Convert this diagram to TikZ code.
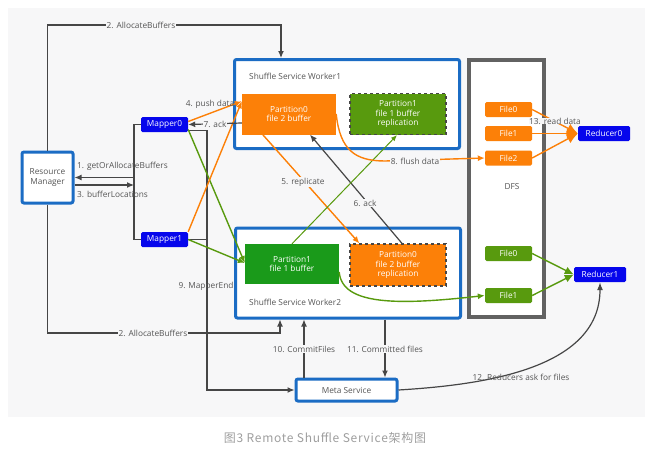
\documentclass[tikz,border=0pt]{standalone}
\usepackage{fontspec}
\setmainfont{Open Sans}
\newfontfamily\cjkfont[LetterSpace=6]{Noto Sans CJK SC}
\usetikzlibrary{arrows.meta,calc}
\definecolor{rssblue}{RGB}{27,108,196}
\definecolor{rssnavy}{RGB}{6,6,236}
\definecolor{rssorange}{RGB}{252,128,8}
\definecolor{rssolive}{RGB}{88,154,14}
\definecolor{rssgreen}{RGB}{26,154,26}
\definecolor{rssline}{RGB}{70,70,70}
\definecolor{rsstext}{RGB}{85,85,85}
\definecolor{rssbg}{RGB}{247,247,248}
\newcommand\lblfont{\fontsize{8.3}{9.8}\selectfont}
\tikzset{
    svcbox/.style={draw=rssblue, line width=3pt, fill=white, rounded corners=2pt, inner sep=0pt},
    taskbox/.style={fill=rssnavy, text=white, rounded corners=1.5pt, minimum width=47pt, minimum height=15pt, inner sep=0pt, font=\lblfont},
    partbox/.style={text=white, align=center, minimum height=41pt, inner sep=0pt, font=\lblfont},
    replbox/.style={partbox, draw=rssline, dashed, line width=1.2pt},
    filebox/.style={text=white, rounded corners=1.5pt, minimum width=47pt, minimum height=15pt, inner sep=0pt, font=\lblfont},
    msg/.style={text=rsstext, font=\lblfont, inner sep=1pt},
    msgbg/.style={msg, fill=rssbg},
    flow/.style={draw=rssline, line width=1.2pt, -{Latex[length=7pt,width=6pt]}},
    plain/.style={draw=rssline, line width=1.2pt},
    oflow/.style={draw=rssorange, line width=1.4pt, -{Latex[length=7pt,width=6pt]}},
    gflow/.style={draw=rssolive, line width=1.4pt, -{Latex[length=7pt,width=6pt]}}
}
\begin{document}
\begin{tikzpicture}[x=1pt,y=-1pt]
    \useasboundingbox (0,0) rectangle (650,450);
    \fill[rssbg] (8,8) rectangle (645,417);

    \node[svcbox, minimum width=51pt, minimum height=51pt, text=rsstext, align=center, font=\lblfont] (rm) at (47.5,177.5) {Resource\\Manager};
    \node[taskbox] (mapper0) at (164.5,124.5) {Mapper0};
    \node[taskbox] (mapper1) at (164.5,239.5) {Mapper1};

    \node[svcbox, minimum width=225pt, minimum height=89pt] (w1) at (347,104) {};
    \node[msg, anchor=west] (w1label) at (248,76) {Shuffle Service Worker1};
    \node[partbox, fill=rssorange, minimum width=94pt] (p0) at (289,114) {Partition0\\file 2 buffer};
    \node[replbox, fill=rssolive, minimum width=96pt] (p1r) at (398,114) {Partition1\\file 1 buffer\\replication};

    \node[svcbox, minimum width=225pt, minimum height=90pt] (w2) at (348,273) {};
    \node[msg, anchor=west] (w2label) at (248,302) {Shuffle Service Worker2};
    \node[partbox, fill=rssgreen, minimum width=94pt, minimum height=40pt] (p1) at (292,264) {Partition1\\file 1 buffer};
    \node[replbox, fill=rssorange, minimum width=96pt, minimum height=42pt] (p0r) at (398,265) {Partition0\\file 2 buffer\\replication};

    \node[draw=rssline!85, line width=4pt, fill=white, minimum width=75pt, minimum height=257pt, inner sep=0pt] (dfs) at (506.5,188.5) {};
    \node[msg] (dfslabel) at (512,187) {DFS};
    \node[filebox, fill=rssorange] (f0o) at (508.5,109.5) {File0};
    \node[filebox, fill=rssorange] (f1o) at (508.5,133.5) {File1};
    \node[filebox, fill=rssorange] (f2o) at (508.5,158) {File2};
    \node[filebox, fill=rssolive] (f0g) at (508.5,253.5) {File0};
    \node[filebox, fill=rssolive] (f1g) at (508.5,295.5) {File1};
    \node[taskbox, minimum width=52pt] (red0) at (604,133.5) {Reducer0};
    \node[taskbox, minimum width=52pt] (red1) at (600,274.5) {Reducer1};

    \node[svcbox, minimum width=101pt, minimum height=22pt, text=rsstext, font=\lblfont] (meta) at (346.5,390) {Meta Service};

    \coordinate (topbus) at (0,25);
    \coordinate (botbus) at (0,333);
    \coordinate (allocx1) at (281,0);
    \coordinate (allocx2) at (280,0);
    \coordinate (lbus) at (134,0);
    \coordinate (rbus) at (207,130.5);
    \coordinate (cfx) at (304,0);
    \coordinate (cdx) at (385,0);

    \draw[flow] (rm.north) -- (rm.north |- topbus) -| (w1.north -| allocx1);
    \draw[flow] (rm.south) -- (rm.south |- botbus) -| (w2.south -| allocx2);
    \draw[plain] (mapper0.west) -| (lbus |- mapper0.west) |- (mapper1.west);
    \draw[flow] (lbus |- rm.east) -- (rm.east);
    \draw[flow] ($(rm.east)+(0,7.5)$) -- (lbus |- {$(rm.east)+(0,7.5)$});
    \draw[flow] ($(mapper0.east)+(0,6)$) -- (rbus) |- (meta.west);
    \draw[plain] (mapper1.east) -- (mapper1.east -| rbus);

    \draw[gflow] ($(mapper0.east)+(0,5)$) -- ($(p1.west)+(0,-1)$);
    \draw[gflow] (mapper1.east) -- ($(p1.west)+(0,-1)$);
    \draw[oflow] ($(mapper0.east)+(0,-3)$) -- ($(p0.north west)+(0,8)$);
    \draw[oflow] (mapper1.north east) -- ($(p0.north west)+(0,8)$);
    \draw[flow] ($(p0.west)+(0,9)$) -- (mapper0.east);

    \draw[oflow] ($(p0.south west)+(21,0)$) -- ($(p0r.north west)+(10,0)$);
    \draw[flow] ($(p0r.north)+(4,0)$) -- ($(p0.south)+(21,0)$);
    \draw[draw=rssolive, line width=1pt, -{Latex[length=6pt,width=5pt]}] (p1.north) -- ($(p1r.south)+(-1,0)$);
    \draw[oflow] (p0.east) .. controls (340,150) and (355,161) .. (385,161) -- (f2o.west);
    \draw[gflow] ($(p1.east)+(0,8)$) .. controls (342,306) and (400,305) .. (f1g.west);

    \draw[oflow, -{Latex[length=11pt,width=10pt]}] (f0o.east) -- (red0.west);
    \draw[oflow, -{Latex[length=11pt,width=10pt]}] (f1o.east) -- (red0.west);
    \draw[oflow, -{Latex[length=11pt,width=10pt]}] (f2o.east) -- (red0.west);
    \draw[gflow, -{Latex[length=9pt,width=8pt]}] (f0g.east) -- (red1.west);
    \draw[gflow, -{Latex[length=9pt,width=8pt]}] (f1g.east) -- (red1.west);

    \draw[flow] (meta.north -| cfx) -- (w2.south -| cfx);
    \draw[flow] (w2.south -| cdx) -- (meta.north -| cdx);
    \draw[draw=rssline, line width=1.2pt, -{Latex[length=8pt,width=6pt]}] (meta.east) .. controls (480,385) and (600,370) .. (red1.south);

    \node[msgbg] (m2a) at (141,25) {2. AllocateBuffers};
    \node[msgbg] (m2b) at (153,333) {2. AllocateBuffers};
    \node[msg, anchor=west] (m1) at (76,166) {1. getOrAllocateBuffers};
    \node[msg, anchor=west] (m3) at (76,194) {3. bufferLocations};
    \node[msg] (m4) at (210,104) {4. push data};
    \node[msgbg] (m7) at (215,124) {7. ack};
    \node[msgbg] (m5) at (303,182) {5. replicate};
    \node[msgbg] (m6) at (365,203) {6. ack};
    \node[msgbg] (m8) at (415,161) {8. flush data};
    \node[msg] (m9) at (206,286) {9. MapperEnd};
    \node[msgbg] (m10) at (304,349) {10. CommitFiles};
    \node[msgbg] (m11) at (385,349) {11. Committed files};
    \node[msg] (m12) at (521,377) {12. Reducers ask for files};
    \node[msgbg, inner sep=0pt] (m13) at (555,121) {13. read data};

    \node[text=black!38, font=\cjkfont\fontsize{12}{14}\selectfont] (caption) at (325,438) {图3 Remote Shuffle Service架构图};
\end{tikzpicture}
\end{document}
